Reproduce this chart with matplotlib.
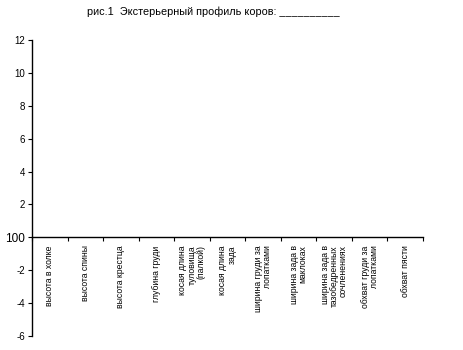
import matplotlib
matplotlib.use('Agg')
import matplotlib.pyplot as plt
import matplotlib.transforms as mtransforms

plt.rcParams['font.family'] = ['Liberation Sans', 'DejaVu Sans']

categories = [
    'высота в холке',
    'высота спины',
    'высота крестца',
    'глубина груди',
    'косая длина\nтуловища\n(палкой)',
    'косая длина\nзада',
    'ширина груди за\nлопатками',
    'ширина зада в\nмаклоках',
    'ширина зада в\nтазобедренных\nсочленениях',
    'обхват груди за\nлопатками',
    'обхват пясти',
]
y_ticks = [-6, -4, -2, 0, 2, 4, 6, 8, 10, 12]
y_labels = ['-6', '-4', '-2', '100', '2', '4', '6', '8', '10', '12']
title = 'рис.1  Экстерьерный профиль коров: __________'

fig = plt.figure(figsize=(4.64, 3.5), dpi=100)
ax = fig.add_axes([32 / 464, 1 - 336 / 350, (423 - 32) / 464, (336 - 40) / 350])

n = len(categories)
ax.set_xlim(0.5, n + 0.5)
ax.set_ylim(-6, 12)

ax.spines['top'].set_visible(False)
ax.spines['right'].set_visible(False)
ax.spines['bottom'].set_position(('data', 0))
ax.spines['left'].set_linewidth(1)
ax.spines['bottom'].set_linewidth(1)

# category boundaries as tick marks on the zero line
ax.set_xticks([i + 0.5 for i in range(n + 1)])
ax.set_xticklabels([])
ax.tick_params(axis='x', direction='out', length=3, width=0.8)

ax.set_yticks(y_ticks)
ax.set_yticklabels(y_labels, fontsize=7)
ax.tick_params(axis='y', direction='out', length=3, width=0.8, pad=2)
for lbl in ax.get_yticklabels():
    if lbl.get_text() == '100':
        lbl.set_fontsize(8.5)

trans = mtransforms.blended_transform_factory(ax.transData, ax.transData)
offset = mtransforms.ScaledTranslation(0, -8 / 100, fig.dpi_scale_trans)
for i, name in enumerate(categories):
    ax.text(i + 1, 0, name, transform=trans + offset, rotation=90,
            ha='center', va='top', multialignment='right',
            fontsize=6.2, linespacing=1.0)

fig.text(213 / 464, 1 - 12 / 350, title, ha='center', va='center', fontsize=7.8)

fig.savefig('out.png', dpi=100)
